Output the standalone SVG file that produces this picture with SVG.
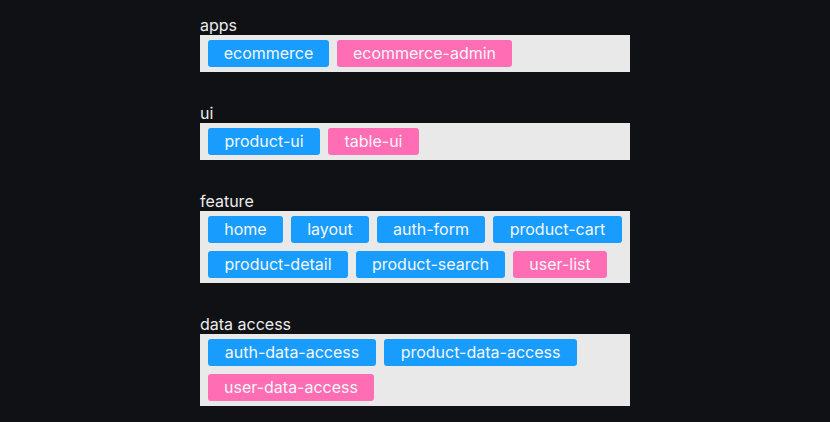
<svg xmlns="http://www.w3.org/2000/svg" width="830" height="422" viewBox="0 0 830 422">
<style>
.lbl{font-family:Inter,"Noto Sans",sans-serif;font-size:16px;fill:#ececec}
.panel{fill:#e9e9e9}
.b{fill:#189dff}
.p{fill:#ff6db4}
.t{font-family:Inter,"Noto Sans",sans-serif;font-size:16px;fill:#f4f6fa;text-anchor:middle}
</style>
<rect width="830" height="422" fill="#0f1115"/>
<g id="apps">
<text class="lbl" x="200" y="31">apps</text>
<rect class="panel" x="200" y="35" width="430" height="37"/>
<g id="ecommerce"><rect class="b" x="208" y="40" width="121" height="27" rx="3"/><text class="t" x="268.5" y="59">ecommerce</text></g>
<g id="ecommerce-admin"><rect class="p" x="337" y="40" width="175" height="27" rx="3"/><text class="t" x="424.5" y="59">ecommerce-admin</text></g>
</g>
<g id="ui">
<text class="lbl" x="200" y="119">ui</text>
<rect class="panel" x="200" y="123" width="430" height="37"/>
<g id="product-ui"><rect class="b" x="208" y="128" width="112" height="27" rx="3"/><text class="t" x="264" y="147">product-ui</text></g>
<g id="table-ui"><rect class="p" x="328" y="128" width="91" height="27" rx="3"/><text class="t" x="373.5" y="147">table-ui</text></g>
</g>
<g id="feature">
<text class="lbl" x="200" y="207">feature</text>
<rect class="panel" x="200" y="211" width="430" height="72"/>
<g id="home"><rect class="b" x="208" y="216" width="75" height="27" rx="3"/><text class="t" x="245.5" y="235">home</text></g>
<g id="layout"><rect class="b" x="291" y="216" width="78" height="27" rx="3"/><text class="t" x="330" y="235">layout</text></g>
<g id="auth-form"><rect class="b" x="377" y="216" width="108" height="27" rx="3"/><text class="t" x="431" y="235">auth-form</text></g>
<g id="product-cart"><rect class="b" x="493" y="216" width="129" height="27" rx="3"/><text class="t" x="557.5" y="235">product-cart</text></g>
<g id="product-detail"><rect class="b" x="208" y="251" width="140" height="27" rx="3"/><text class="t" x="278" y="270">product-detail</text></g>
<g id="product-search"><rect class="b" x="356" y="251" width="149" height="27" rx="3"/><text class="t" x="430.5" y="270">product-search</text></g>
<g id="user-list"><rect class="p" x="513" y="251" width="94" height="27" rx="3"/><text class="t" x="560" y="270">user-list</text></g>
</g>
<g id="data-access">
<text class="lbl" x="200" y="330">data access</text>
<rect class="panel" x="200" y="334" width="430" height="72"/>
<g id="auth-data-access"><rect class="b" x="208" y="339" width="168" height="27" rx="3"/><text class="t" x="292" y="358">auth-data-access</text></g>
<g id="product-data-access"><rect class="b" x="384" y="339" width="193" height="27" rx="3"/><text class="t" x="480.5" y="358">product-data-access</text></g>
<g id="user-data-access"><rect class="p" x="208" y="374" width="166" height="27" rx="3"/><text class="t" x="291" y="393">user-data-access</text></g>
</g>
<g id="connectors"/>
</svg>
